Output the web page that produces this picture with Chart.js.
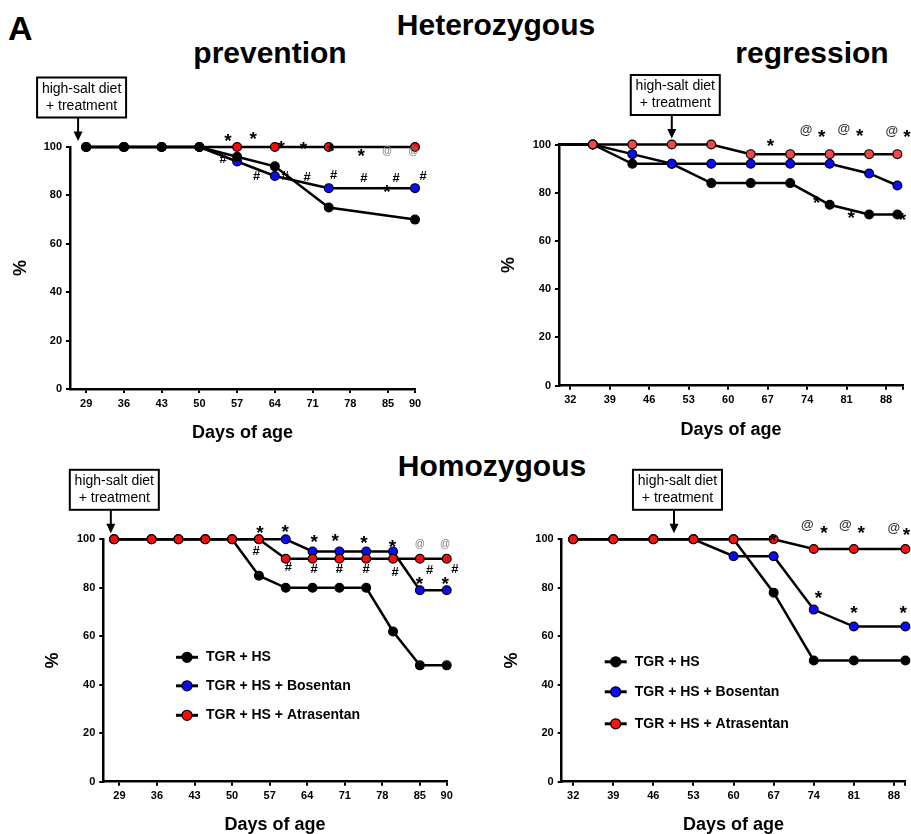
<!DOCTYPE html>
<html>
<head>
<meta charset="utf-8">
<script src="https://cdn.jsdelivr.net/npm/chart.js@4.4.1/dist/chart.umd.min.js"></script>
<style>
  html, body { margin: 0; padding: 0; background: #fff; }
  body { width: 911px; height: 834px; position: relative; overflow: hidden;
         font-family: "Liberation Sans", Arial, Helvetica, sans-serif; }
  .t { position: absolute; font-weight: bold; color: #000; white-space: nowrap; line-height: 1; }
  .c { transform: translateX(-50%); }
  canvas { position: absolute; }
</style>
</head>
<body>
<div class="t" style="left:8px; top:11px; font-size:34px;">A</div>
<div class="t c" style="left:496px; top:9.6px; font-size:30px;">Heterozygous</div>
<div class="t c" style="left:270px; top:37.6px; font-size:30px;">prevention</div>
<div class="t c" style="left:812px; top:37.6px; font-size:30px;">regression</div>
<div class="t c" style="left:492px; top:451px; font-size:30px;">Homozygous</div>

<canvas id="c1"></canvas>
<canvas id="c2"></canvas>
<canvas id="c3"></canvas>
<canvas id="c4"></canvas>

<script>
const FONT = '"Liberation Sans", Arial, Helvetica, sans-serif';

// ---------- shared ----------
const seriesNames = ['TGR + HS', 'TGR + HS + Bosentan', 'TGR + HS + Atrasentan'];
const yTicks = [0, 20, 40, 60, 80, 100];
const boxText = ['high-salt diet', '+ treatment'];
const xTitle = 'Days of age';
const yTitle = '%';

// ---------- Heterozygous – prevention ----------
const hetPrevDays  = [29, 36, 43, 50, 57, 64, 74, 90];
const hetPrevHS    = [100, 100, 100, 100, 96, 92, 75, 70];
const hetPrevBos   = [100, 100, 100, 100, 94, 88, 83, 83];
const hetPrevAtr   = [100, 100, 100, 100, 100, 100, 100, 100];
const hetPrevTicks = [29, 36, 43, 50, 57, 64, 71, 78, 85, 90];
const hetPrevMarks = [
  [55.3, 104.3, '*'], [60.0, 105.4, '*'], [65.2, 101.5, '*'], [69.3, 101.2, '*'],
  [74.4, 100.5, '*'], [80.0, 98.3, '*'], [84.8, 83.6, '*'],
  [84.8, 98.3, '@'], [89.7, 98.3, '@'],
  [54.4, 95.3, '#'], [60.6, 88.4, '#'], [65.9, 88.4, '#'], [70.0, 87.9, '#'],
  [74.9, 88.6, '#'], [80.5, 87.3, '#'], [86.5, 87.6, '#'], [91.5, 88.4, '#']
];

// ---------- Heterozygous – regression ----------
const hetRegDays  = [30, 36, 43, 50, 57, 64, 71, 78, 85, 90];
const hetRegHS    = [100, 100, 92, 92, 84, 84, 84, 75, 71, 71];
const hetRegBos   = [100, 100, 96, 92, 92, 92, 92, 92, 88, 83];
const hetRegAtr   = [100, 100, 100, 100, 100, 96, 96, 96, 96, 96];
const hetRegTicks = [32, 39, 46, 53, 60, 67, 74, 81, 88, 91];
const hetRegMarks = [
  [67.5, 101.4, '*'], [73.8, 106.0, '@'], [76.6, 105.1, '*'], [80.5, 106.4, '@'],
  [83.3, 105.6, '*'], [89.0, 105.6, '@'], [91.7, 105.1, '*'],
  [75.7, 77.7, '*'], [81.8, 71.5, '*'], [90.9, 70.8, '*']
];

// ---------- Homozygous – prevention ----------
const homPrevDays  = [28, 35, 40, 45, 50, 55, 60, 65, 70, 75, 80, 85, 90];
const homPrevHS    = [100, 100, 100, 100, 100, 85, 80, 80, 80, 80, 62, 48, 48];
const homPrevBos   = [100, 100, 100, 100, 100, 100, 100, 95, 95, 95, 95, 79, 79];
const homPrevAtr   = [100, 100, 100, 100, 100, 100, 92, 92, 92, 92, 92, 92, 92];
const homPrevTicks = [29, 36, 43, 50, 57, 64, 71, 78, 85, 90];
const homPrevMarks = [
  [55.2, 104.5, '*'], [59.9, 105.2, '*'], [65.3, 100.7, '*'], [69.2, 101.1, '*'],
  [74.6, 100.4, '*'], [79.9, 98.8, '*'], [84.9, 83.6, '*'], [89.7, 83.6, '*'],
  [85.0, 97.9, '@'], [89.7, 97.9, '@'],
  [54.5, 95.6, '#'], [60.5, 88.7, '#'], [65.3, 88.0, '#'], [70.0, 88.0, '#'],
  [75.0, 88.0, '#'], [80.4, 86.9, '#'], [86.8, 87.7, '#'], [91.5, 88.0, '#']
];

// ---------- Homozygous – regression ----------
const homRegDays  = [32, 39, 46, 53, 60, 67, 74, 81, 90];
const homRegHS    = [100, 100, 100, 100, 100, 78, 50, 50, 50];
const homRegBos   = [100, 100, 100, 100, 93, 93, 71, 64, 64];
const homRegAtr   = [100, 100, 100, 100, 100, 100, 96, 96, 96];
const homRegTicks = [32, 39, 46, 53, 60, 67, 74, 81, 88, 90];
const homRegMarks = [
  [66.8, 101.1, '*'], [72.9, 105.9, '@'], [75.8, 104.5, '*'], [79.5, 105.9, '@'],
  [82.3, 104.5, '*'], [88.0, 104.5, '@'], [90.2, 103.8, '*'],
  [74.8, 77.7, '*'], [81.0, 71.5, '*'], [89.6, 71.5, '*']
];

// ---------- drawing ----------
Chart.defaults.font.family = FONT;
Chart.defaults.color = '#000';

const overlay = {
  id: 'overlay',
  afterDatasetsDraw(chart, _args, o) {
    const ctx = chart.ctx, ca = chart.chartArea;
    const xs = chart.scales.x, ys = chart.scales.y;
    ctx.save();
    // significance symbols
    ctx.textAlign = 'center';
    ctx.textBaseline = 'alphabetic';
    for (const [d, v, s] of o.marks) {
      let size, color, weight, lift;
      if (s === '*') { size = 19; color = '#000'; weight = 'bold'; lift = 0.57; }
      else if (s === '#') { size = 13; color = '#000'; weight = 'bold'; lift = 0.36; }
      else { size = o.atSize; color = o.atColor; weight = o.atWeight; lift = 0.27; }
      ctx.font = `${weight} ${size}px ${FONT}`;
      ctx.fillStyle = color;
      ctx.fillText(s, xs.getPixelForValue(d), ys.getPixelForValue(v) + lift * size);
    }
    // treatment box + arrow
    const ax = xs.getPixelForValue(o.treatDay);
    const bw = 89, bh = 40, bx = ax - 41, by = ca.top - 69.5;
    ctx.lineWidth = 2; ctx.strokeStyle = '#000'; ctx.fillStyle = '#fff';
    ctx.fillRect(bx, by, bw, bh); ctx.strokeRect(bx, by, bw, bh);
    ctx.fillStyle = '#000'; ctx.font = `14px ${FONT}`; ctx.textBaseline = 'middle';
    ctx.fillText(boxText[0], bx + bw / 2, by + 11.5);
    ctx.fillText(boxText[1], bx + bw / 2, by + 28.5);
    const tip = ca.top - 6;
    ctx.beginPath(); ctx.moveTo(ax, by + bh); ctx.lineTo(ax, tip - 8); ctx.stroke();
    ctx.beginPath(); ctx.moveTo(ax - 4.5, tip - 9.5); ctx.lineTo(ax + 4.5, tip - 9.5);
    ctx.lineTo(ax, tip); ctx.closePath(); ctx.fill();
    // legend
    if (o.legend) {
      const lg = o.legend;
      const cx = ca.left + lg.dx;
      ctx.textAlign = 'left'; ctx.textBaseline = 'middle';
      ctx.font = `bold 14px ${FONT}`;
      seriesNames.forEach((name, i) => {
        const ds = chart.data.datasets.find(d => d.label === name);
        const y = ca.top + lg.rows[i];
        ctx.strokeStyle = '#000'; ctx.lineWidth = 3;
        ctx.beginPath(); ctx.moveTo(cx - 11, y); ctx.lineTo(cx + 11, y); ctx.stroke();
        ctx.beginPath(); ctx.arc(cx, y, 5, 0, Math.PI * 2);
        ctx.fillStyle = ds.backgroundColor; ctx.fill();
        ctx.lineWidth = 1.2; ctx.stroke();
        ctx.fillStyle = '#000';
        ctx.fillText(name, cx + lg.textDx, y);
      });
    }
    ctx.restore();
  }
};

function makePanel(p) {
  const cv = document.getElementById(p.id);
  const r = p.rect, a = p.area;
  cv.width = r.w; cv.height = r.h;
  cv.style.left = r.x + 'px'; cv.style.top = r.y + 'px';
  cv.style.width = r.w + 'px'; cv.style.height = r.h + 'px';
  const colors = ['#000000', '#0a0aff', p.red];
  const datasets = p.series.map((vals, i) => ({
    label: seriesNames[i],
    data: p.days.map((d, j) => ({ x: d, y: vals[j] })),
    borderColor: '#000',
    borderWidth: 2.5,
    backgroundColor: colors[i],
    pointBackgroundColor: colors[i],
    pointBorderColor: '#000',
    pointBorderWidth: 1.2,
    pointRadius: c => (p.hideFirst && c.dataIndex === 0) ? 0 : 4.4,
    tension: 0,
    clip: false,
    order: p.order[i]
  }));
  const titleFont = { size: 18, weight: 'bold', lineHeight: 1 };
  new Chart(cv, {
    type: 'line',
    data: { datasets },
    plugins: [overlay],
    options: {
      responsive: false, animation: false, devicePixelRatio: 1, events: [],
      layout: { padding: { left: 0, bottom: 0, top: a.T - r.y, right: r.x + r.w - a.R } },
      plugins: {
        legend: { display: false }, tooltip: { enabled: false },
        overlay: { marks: p.marks, treatDay: p.treatDay, legend: p.legend,
                   atSize: p.atSize, atColor: p.atColor, atWeight: p.atWeight }
      },
      scales: {
        x: {
          type: 'linear', min: p.xMin, max: p.xMax,
          afterBuildTicks: s => { s.ticks = p.ticks.map(v => ({ value: v })); },
          afterFit: s => { s.height = r.y + r.h - a.B; },
          ticks: {
            autoSkip: false, maxRotation: 0, padding: 4, color: '#000',
            font: { size: 11, weight: 'bold' },
            callback: v => (p.labelTicks.includes(v) ? String(v) : '')
          },
          grid: { display: true, drawOnChartArea: false, drawTicks: true, tickLength: 4, color: '#000', lineWidth: 2 },
          border: { display: true, color: '#000', width: 2.5 },
          title: { display: true, text: xTitle, color: '#000', font: titleFont,
                   padding: { top: 0, bottom: r.y + r.h - p.xTitleY - 9 } }
        },
        y: {
          type: 'linear', min: 0, max: 100,
          afterBuildTicks: s => { s.ticks = yTicks.map(v => ({ value: v })); },
          afterFit: s => { s.width = a.L - r.x; },
          ticks: { padding: 4, color: '#000', font: { size: 11, weight: 'bold' } },
          grid: { display: true, drawOnChartArea: false, drawTicks: true, tickLength: 4, color: '#000', lineWidth: 2 },
          border: { display: true, color: '#000', width: 2.5 },
          title: { display: true, text: yTitle, color: '#000', font: titleFont,
                   padding: { top: p.yTitleX - r.x - 9, bottom: 0 } }
        }
      }
    }
  });
}

makePanel({
  id: 'c1', rect: { x: 0, y: 70, w: 462, h: 380 }, area: { L: 70, T: 147, R: 415, B: 389 },
  xMin: 26, xMax: 90, ticks: hetPrevTicks, labelTicks: hetPrevTicks,
  days: hetPrevDays, series: [hetPrevHS, hetPrevBos, hetPrevAtr], order: [0, 2, 1],
  red: '#ff0a0a', marks: hetPrevMarks, treatDay: 27.5, yTitleX: 21, xTitleY: 433,
  atSize: 10, atColor: '#7a7a7a', atWeight: 'normal', legend: null
});
makePanel({
  id: 'c2', rect: { x: 463, y: 70, w: 448, h: 380 }, area: { L: 559, T: 144.5, R: 903, B: 385.7 },
  xMin: 30, xMax: 91, ticks: hetRegTicks, labelTicks: hetRegTicks.slice(0, 9),
  days: hetRegDays, series: [hetRegHS, hetRegBos, hetRegAtr], order: [2, 1, 0], hideFirst: true,
  red: '#ef4848', marks: hetRegMarks, treatDay: 50, yTitleX: 509.5, xTitleY: 430,
  atSize: 13, atColor: '#333', atWeight: 'bold', legend: null
});
makePanel({
  id: 'c3', rect: { x: 0, y: 450, w: 462, h: 384 }, area: { L: 103.3, T: 539.3, R: 446.7, B: 781.7 },
  xMin: 26, xMax: 90, ticks: homPrevTicks, labelTicks: homPrevTicks,
  days: homPrevDays, series: [homPrevHS, homPrevBos, homPrevAtr], order: [2, 1, 0],
  red: '#ff0a0a', marks: homPrevMarks, treatDay: 27.4, yTitleX: 53.5, xTitleY: 825,
  atSize: 10, atColor: '#7a7a7a', atWeight: 'normal',
  legend: { dx: 83.7, rows: [118, 146.5, 176], textDx: 19 }
});
makePanel({
  id: 'c4', rect: { x: 463, y: 450, w: 448, h: 384 }, area: { L: 561.7, T: 539.3, R: 905.7, B: 781.7 },
  xMin: 30, xMax: 90, ticks: homRegTicks, labelTicks: homRegTicks.slice(0, 9),
  days: homRegDays, series: [homRegHS, homRegBos, homRegAtr], order: [2, 1, 0],
  red: '#ff1010', marks: homRegMarks, treatDay: 49.6, yTitleX: 511.7, xTitleY: 825,
  atSize: 13, atColor: '#333', atWeight: 'bold',
  legend: { dx: 54, rows: [122.5, 152.5, 184.5], textDx: 19 }
});
</script>
</body>
</html>
